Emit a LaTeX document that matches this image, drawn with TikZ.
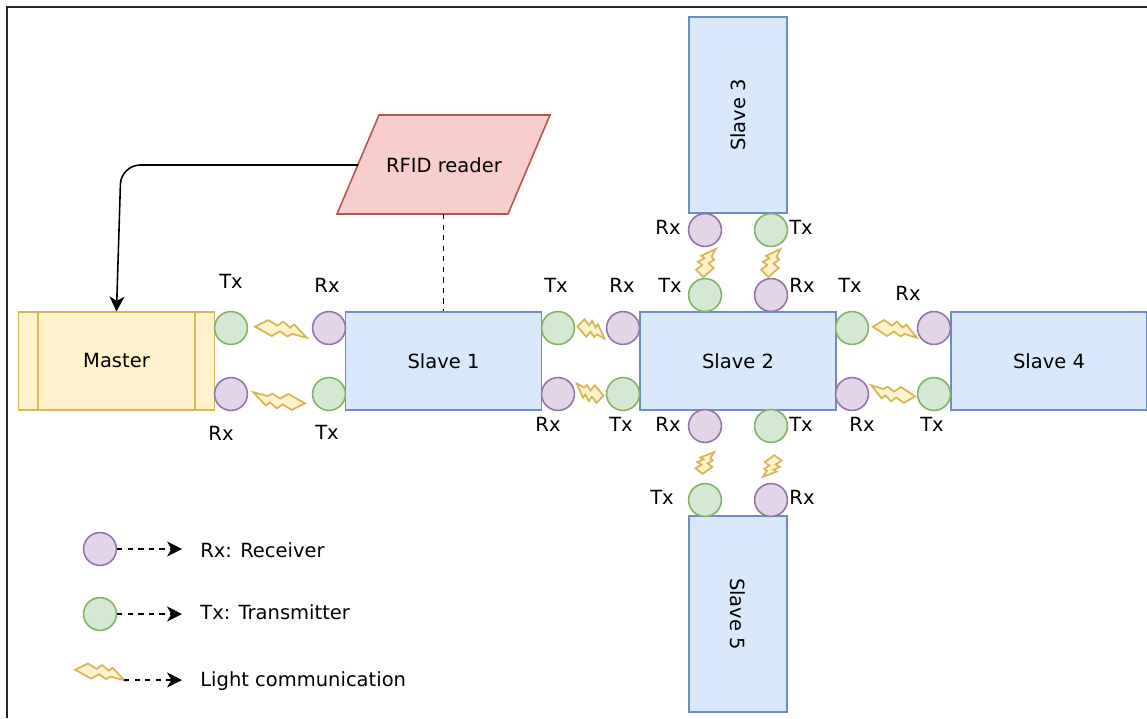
\documentclass[tikz,border=0pt]{standalone}
\usepackage{fontspec}
\setmainfont{DejaVu Sans}
\usetikzlibrary{positioning,calc,arrows.meta,shapes.geometric}
\definecolor{bluefill}{HTML}{DAE8FC}
\definecolor{blueline}{HTML}{6C8EBF}
\definecolor{yellowfill}{HTML}{FFF2CC}
\definecolor{yellowline}{HTML}{D6B656}
\definecolor{redfill}{HTML}{F8CECC}
\definecolor{redline}{HTML}{B85450}
\definecolor{greenfill}{HTML}{D5E8D4}
\definecolor{greenline}{HTML}{82B366}
\definecolor{purplefill}{HTML}{E1D5E7}
\definecolor{purpleline}{HTML}{9673A6}
\tikzset{
  lbl/.style={inner sep=0pt, font=\fontsize{11.1pt}{13pt}\selectfont},
  slavebox/.style={lbl, draw=blueline, fill=bluefill, line width=0.9pt, minimum width=111.6pt, minimum height=55.5pt},
  tallbox/.style={slavebox, minimum width=55.5pt, minimum height=111.6pt},
  rxnode/.style={circle, draw=purpleline, fill=purplefill, line width=0.9pt, minimum size=18.7pt, inner sep=0pt},
  txnode/.style={circle, draw=greenline, fill=greenfill, line width=0.9pt, minimum size=18.7pt, inner sep=0pt},
  bigtip/.style={-{Stealth[length=8.5pt, width=8.5pt, inset=2.5pt]}},
  dasharrow/.style={dashed, line width=0.8pt, bigtip},
  bolt/.pic={
    \draw[draw=yellowline, fill=yellowfill, line width=1pt, line join=miter]
      (-26,-2.3) -- (-12.7,-9) -- (-3.7,-3.4) -- (2.3,-7.4) -- (9,-1.4) -- (13.3,-4.4) -- (25.7,8.7)
      -- (11.3,5) -- (6.3,7.4) -- (-1,2.4) -- (-9.3,7) -- cycle;
  }
}
\begin{document}
\begin{tikzpicture}[x=0.02cm, y=-0.02cm]
  \useasboundingbox (0,0) rectangle (1147,718);

  % Frame
  \draw[black!85, line width=0.75pt] (7,718) -- (7,7) -- (1147,7);

  % Boxes
  \node[slavebox, draw=yellowline, fill=yellowfill] (master) at (116.5,361) {};
  \draw[yellowline, line width=0.9pt] (38,312) -- (38,410) (195,312) -- (195,410);
  \node[lbl] at (master.center) {Master};
  \node[slavebox] (slavea) at (443.5,361) {Slave 1};
  \node[slavebox] (slaveb) at (738,361) {Slave 2};
  \node[slavebox] (slaved) at (1049,361) {Slave 4};
  \node[tallbox] (slavec) at (738,115) {};
  \node[lbl, rotate=90] at (slavec.center) {Slave 3};
  \node[tallbox] (slavee) at (738,614) {};
  \node[lbl, rotate=-90] at (slavee.center) {Slave 5};

  % RFID reader
  \draw[draw=redline, fill=redfill, line width=0.9pt] (379,115) -- (550,115) -- (508,214) -- (337,214) -- cycle;
  \node[lbl] (rfid) at (444,165) {RFID reader};
  \coordinate (rfidleft) at (358,165);
  \coordinate (rfidbottom) at (443.5,214);

  % Connections
  \draw[line width=0.9pt, rounded corners=11pt, bigtip] (rfidleft) -- (121,165) -- (master.north);
  \draw[dashed, line width=0.8pt] (rfidbottom) -- (slavea.north);

  % Master and slave 1
  \node[txnode] (txa) at (231,328) {};
  \node[rxnode] (rxa) at (231,394) {};
  \node[rxnode] (rxb) at (329,328) {};
  \node[txnode] (txb) at (329,394) {};
  \node[lbl] at (231,281) {Tx};
  \node[lbl] at (221,433) {Rx};
  \node[lbl] at (327,285) {Rx};
  \node[lbl] at (327,432) {Tx};
  \pic at (281,329) {bolt};
  \pic[rotate=180] at (279,401) {bolt};

  % Slave 1 and slave 2
  \node[txnode] (txc) at (558,328) {};
  \node[rxnode] (rxc) at (558,394) {};
  \node[rxnode] (rxd) at (623,328) {};
  \node[txnode] (txd) at (623,394) {};
  \node[lbl] at (556,285) {Tx};
  \node[lbl] at (548,424) {Rx};
  \node[lbl] at (622,285) {Rx};
  \node[lbl] at (621,424) {Tx};
  \pic[xscale=.52, yscale=1.1] at (591,329) {bolt};
  \pic[rotate=180, xscale=.52, yscale=1.1] at (590,393) {bolt};

  % Slave 2 and slave 4
  \node[txnode] (txe) at (852,328) {};
  \node[rxnode] (rxe) at (852,394) {};
  \node[rxnode] (rxf) at (934,328) {};
  \node[txnode] (txf) at (934,394) {};
  \node[lbl] at (850,285) {Tx};
  \node[lbl] at (862,424) {Rx};
  \node[lbl] at (908,293) {Rx};
  \node[lbl] at (932,424) {Tx};
  \pic[xscale=.85] at (895,329) {bolt};
  \pic[rotate=180, xscale=.85] at (893,394) {bolt};

  % Slave 2 and slave 3
  \node[rxnode] (rxg) at (705,230) {};
  \node[txnode] (txg) at (771,230) {};
  \node[txnode] (txh) at (705,295) {};
  \node[rxnode] (rxh) at (771,295) {};
  \node[lbl] at (668,227) {Rx};
  \node[lbl] at (801,227) {Tx};
  \node[lbl] at (670,285) {Tx};
  \node[lbl] at (802,285) {Rx};
  \pic[rotate=90, xscale=.54, yscale=1.1] at (706,263) {bolt};
  \pic[rotate=90, xscale=.54, yscale=1.1] at (771,263) {bolt};

  % Slave 2 and slave 5
  \node[rxnode] (rxi) at (705,426) {};
  \node[txnode] (txi) at (771,426) {};
  \node[txnode] (txj) at (705,500) {};
  \node[rxnode] (rxj) at (771,500) {};
  \node[lbl] at (668,424) {Rx};
  \node[lbl] at (801,424) {Tx};
  \node[lbl] at (662,497) {Tx};
  \node[lbl] at (802,497) {Rx};
  \pic[rotate=90, xscale=.42, yscale=1.05] at (705,463) {bolt};
  \pic[rotate=-90, xscale=.42, yscale=1.05] at (772,466) {bolt};

  % Legend
  \node[rxnode] (legrx) at (100,549) {};
  \node[txnode] (legtx) at (100,614) {};
  \pic[scale=.95] at (100,672) {bolt};
  \coordinate (legbolt) at (124,680);
  \coordinate (legrxend) at (182,549);
  \coordinate (legtxend) at (182,614);
  \coordinate (legboltend) at (182,680);
  \draw[dasharrow] (legrx) -- (legrxend);
  \draw[dasharrow] (legtx) -- (legtxend);
  \draw[dasharrow] (legbolt) -- (legboltend);
  \node[lbl, anchor=base west] at (200,557) {Rx: Receiver};
  \node[lbl, anchor=base west] at (200,619) {Tx: Transmitter};
  \node[lbl, anchor=base west] at (200,686) {Light communication};
\end{tikzpicture}
\end{document}
